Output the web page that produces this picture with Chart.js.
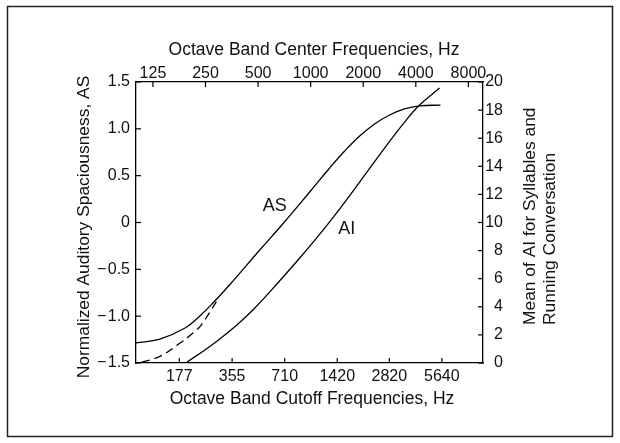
<!DOCTYPE html>
<html><head><meta charset="utf-8">
<script src="https://cdn.jsdelivr.net/npm/chart.js@4.4.0/dist/chart.umd.min.js"></script>
<style>
html,body{margin:0;padding:0;background:#fff;}
#wrap{position:relative;width:620px;height:443px;background:#fff;}
canvas{display:block;}
</style></head><body>
<div id="wrap"><canvas id="c" width="620" height="443"></canvas></div>
<script>
// ---- tick labels ----
const bottomTicks = [177, 355, 710, 1420, 2820, 5640];        // octave band cutoff frequencies, Hz
const topTicks = [125, 250, 500, 1000, 2000, 4000, 8000];     // octave band center frequencies, Hz
const asTicks = [-1.5, -1.0, -0.5, 0, 0.5, 1.0, 1.5];
const aiTicks = [0, 2, 4, 6, 8, 10, 12, 14, 16, 18, 20];

// ---- series ----
const asFreq   = [100, 137, 191, 232, 279, 345, 511, 700, 988, 1285, 1566, 1908, 2324, 2831, 3450, 4203, 5540];
const asValues = [-1.286, -1.244, -1.126, -0.998, -0.849, -0.662, -0.294, -0.005, 0.326, 0.582, 0.763, 0.923, 1.052, 1.148, 1.212, 1.244, 1.254];

const dashFreq   = [108, 137, 178, 212, 235, 290];
const dashValues = [-1.49, -1.43, -1.29, -1.18, -1.10, -0.84];

const aiFreq   = [196, 248, 302, 378, 473, 648, 866, 1083, 1391, 1908, 2650, 3450, 4203, 5470];
const aiValues = [0.07, 0.93, 1.71, 2.70, 3.84, 5.69, 7.47, 8.90, 10.60, 12.88, 15.30, 17.15, 18.36, 19.57];

const FONT = "'Liberation Sans', Arial, Helvetica, sans-serif";
const pts = (xs, ys) => xs.map((x, i) => ({x: x, y: ys[i]}));
const fixed = list => scale => { scale.ticks = list.map(v => ({value: v})); };
const fmtAS = v => v === 0 ? '0' : (v < 0 ? '\u2212\u200A' : '') + Math.abs(v).toFixed(1);

const border = {display: true, color: '#000', width: 1.3};
const tickFont = {size: 16, family: FONT};

const decor = {
  id: 'decor',
  afterDraw(chart) {
    const {ctx, chartArea: a, scales} = chart;
    ctx.save();
    ctx.strokeStyle = '#000';
    ctx.lineWidth = 1.2;
    const TL = 5;
    const seg = (x1, y1, x2, y2) => { ctx.beginPath(); ctx.moveTo(x1, y1); ctx.lineTo(x2, y2); ctx.stroke(); };
    scales.x.ticks.forEach(t => { const p = scales.x.getPixelForValue(t.value); seg(p, a.bottom, p, a.bottom - TL); });
    scales.x2.ticks.forEach(t => { const p = scales.x2.getPixelForValue(t.value); seg(p, a.top, p, a.top + TL); });
    scales.y.ticks.forEach(t => { const p = scales.y.getPixelForValue(t.value); seg(a.left, p, a.left + TL, p); });
    scales.y2.ticks.forEach(t => { const p = scales.y2.getPixelForValue(t.value); seg(a.right, p, a.right - TL, p); });

    ctx.fillStyle = '#111';
    ctx.textBaseline = 'middle';
    ctx.textAlign = 'center';
    ctx.font = '17.5px ' + FONT;
    ctx.fillText('Octave Band Center Frequencies, Hz', 314, 50);
    ctx.fillText('Octave Band Cutoff Frequencies, Hz', 312, 399);

    ctx.save();
    ctx.font = '17.4px ' + FONT;
    ctx.translate(84, 227);
    ctx.rotate(-Math.PI / 2);
    ctx.fillText('Normalized Auditory Spaciousness, AS', 0, 0);
    ctx.restore();

    ctx.save();
    ctx.font = '17.4px ' + FONT;
    ctx.translate(530, 325);
    ctx.rotate(-Math.PI / 2);
    ctx.textAlign = 'left';
    ctx.fillText('Mean of AI for Syllables and', 0, 0);
    ctx.fillText('Running Conversation', 0, 20);
    ctx.restore();

    ctx.font = '18px ' + FONT;
    ctx.fillText('AS', scales.x.getPixelForValue(623), scales.y.getPixelForValue(0.176));
    ctx.fillText('AI', scales.x.getPixelForValue(1608), scales.y2.getPixelForValue(9.54));

    ctx.strokeStyle = '#222';
    ctx.lineWidth = 1.5;
    ctx.strokeRect(7.5, 6.5, 605, 430);
    ctx.restore();
  }
};

new Chart(document.getElementById('c'), {
  type: 'scatter',
  data: {
    datasets: [
      {data: pts(asFreq, asValues), xAxisID: 'x', yAxisID: 'y', showLine: true,
       borderColor: '#000', borderWidth: 1.3, pointRadius: 0, tension: 0.4},
      {data: pts(dashFreq, dashValues), xAxisID: 'x', yAxisID: 'y', showLine: true,
       borderColor: '#000', borderWidth: 1.3, borderDash: [8, 5], pointRadius: 0, tension: 0.4},
      {data: pts(aiFreq, aiValues), xAxisID: 'x', yAxisID: 'y2', showLine: true,
       borderColor: '#000', borderWidth: 1.3, pointRadius: 0, tension: 0.4}
    ]
  },
  options: {
    responsive: false,
    devicePixelRatio: 1,
    animation: false,
    events: [],
    layout: {padding: {left: 0, top: 0, bottom: 0, right: 117}},
    plugins: {legend: {display: false}, tooltip: {enabled: false}},
    scales: {
      x: {type: 'logarithmic', position: 'bottom', min: 100, max: 9700, bounds: 'data',
          grid: {display: false, drawTicks: false}, border: border,
          afterBuildTicks: fixed(bottomTicks), afterFit: s => { s.height = 80; },
          ticks: {autoSkip: false, maxRotation: 0, minRotation: 0, padding: 4, font: tickFont, color: '#111',
                  callback: v => String(v)}},
      x2: {type: 'logarithmic', position: 'top', min: 100, max: 9700, bounds: 'data',
           grid: {display: false, drawTicks: false}, border: border,
           afterBuildTicks: fixed(topTicks), afterFit: s => { s.height = 82; },
           ticks: {autoSkip: false, maxRotation: 0, minRotation: 0, padding: -1, font: tickFont, color: '#111',
                   callback: v => String(v)}},
      y: {type: 'linear', position: 'left', min: -1.5, max: 1.5,
          grid: {display: false, drawTicks: false}, border: border,
          afterBuildTicks: fixed(asTicks), afterFit: s => { s.width = 136; },
          ticks: {padding: 6, font: tickFont, color: '#111', callback: fmtAS}},
      y2: {type: 'linear', position: 'right', min: 0, max: 20,
           grid: {display: false, drawTicks: false}, border: border,
           afterBuildTicks: fixed(aiTicks), afterFit: s => { s.width = 20; },
           ticks: {padding: 4, crossAlign: 'far', font: tickFont, color: '#111', callback: v => String(v)}}
    }
  },
  plugins: [decor]
});
</script>
</body></html>
